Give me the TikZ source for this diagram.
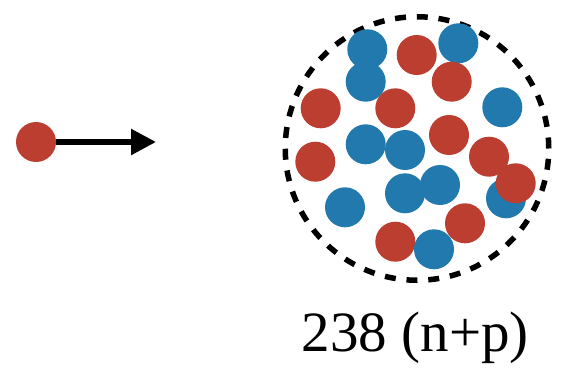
\documentclass[tikz,border=0pt]{standalone}
\usepackage{fontspec}
\setmainfont{Liberation Serif}
\usepackage{tikz}
\usetikzlibrary{arrows.meta}

\definecolor{protonred}{RGB}{187,62,48}
\definecolor{neutronblue}{RGB}{34,121,173}

\begin{document}
\begin{tikzpicture}[x=1pt, y=-1pt,
    proton/.style={circle, fill=protonred, minimum size=40pt, inner sep=0pt},
    neutron/.style={circle, fill=neutronblue, minimum size=40pt, inner sep=0pt}]
    \useasboundingbox (0,0) rectangle (567,369);

    % proton vindo da esquerda
    \node[proton] (inc) at (36,142) {};
    \coordinate (tip) at (156,142);
    \draw[line width=5.5pt, -{Triangle[length=25pt, width=25pt]}] (inc.east) -- (tip);

    % borda do nucleo
    \node[circle, draw, line width=5.5pt, dash pattern=on 11pt off 10.8pt,
          minimum size=263.5pt, inner sep=0pt] (nucleo) at (417,148.5) {};

    % neutrons
    \foreach \x/\y [count=\i] in {367.3/49.3, 365.7/81.7, 458.3/43.3, 502.3/107.3,
        365.7/144.3, 405/150, 405/193.3, 440/185, 345/207.3, 506/198.3}
        \node[neutron] (n\i) at (\x,\y) {};

    % protons
    \foreach \x/\y [count=\i] in {416.7/55, 451.7/81.7, 320.7/108.3, 395.3/108.3,
        449/135, 315.3/161.7, 489/156.7, 515.7/183.3, 465/223.3, 395.3/241.7}
        \node[proton] (p\i) at (\x,\y) {};

    \node[neutron] (n11) at (434,249.3) {};

    \node[anchor=base, inner sep=0pt, font=\fontsize{57}{60}\selectfont]
        (massa) at (415.3,351.7) {238 (n+p)};
\end{tikzpicture}
\end{document}
